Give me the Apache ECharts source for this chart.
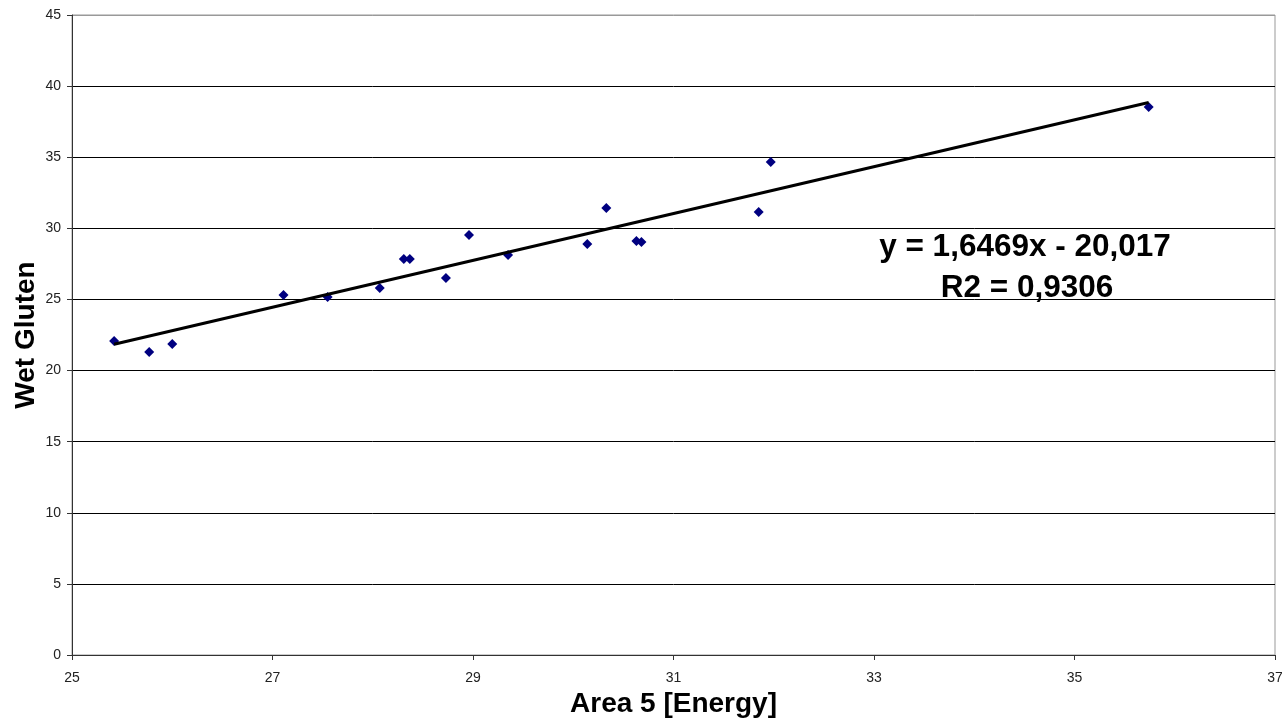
<!DOCTYPE html>
<html>
<head>
<meta charset="utf-8">
<script src="https://cdn.jsdelivr.net/npm/echarts@6/dist/echarts.min.js"></script>
<style>
  html, body { margin: 0; padding: 0; background: #fff; }
  #chart { width: 1282px; height: 720px; }
</style>
</head>
<body>
<div id="chart"></div>
<script>
// measured points: Area 5 [Energy] vs Wet Gluten
var energy = [25.42, 25.77, 26.00, 27.11, 27.55, 28.07, 28.31, 28.37, 28.73, 28.96,
              29.35, 30.14, 30.33, 30.63, 30.68, 31.85, 31.97, 35.74];
var gluten = [22.08, 21.31, 21.87, 25.32, 25.18, 25.81, 27.85, 27.85, 26.51, 29.54,
              28.13, 28.90, 31.43, 29.11, 29.04, 31.15, 34.67, 38.54];

// linear trend as printed on the chart
var trendSlope = 1.6469;
var trendIntercept = -20.017;
var trendLabel = ['y = 1,6469x - 20,017', 'R2 = 0,9306'];

var xMin = 25, xMax = 37, xStep = 2;
var yMin = 0, yMax = 45, yStep = 5;

(function() {
  var font = '"Liberation Sans", Arial, sans-serif';
  var points = energy.map(function(x, i) { return [x, gluten[i]]; });
  var x0 = Math.min.apply(null, energy);
  var x1 = Math.max.apply(null, energy);
  var trend = [[x0, trendSlope * x0 + trendIntercept], [x1, trendSlope * x1 + trendIntercept]];

  var gridColors = [];
  for (var v = yMin; v < yMax; v += yStep) gridColors.push('#000');
  gridColors.push('#999');

  var chart = echarts.init(document.getElementById('chart'), null, { renderer: 'canvas' });
  chart.setOption({
    animation: false,
    backgroundColor: '#fff',
    grid: {
      left: 72, right: 7, top: 15, bottom: 65,
      containLabel: false, outerBoundsMode: 'none',
      show: true, borderColor: '#999', borderWidth: 1
    },
    xAxis: {
      type: 'value',
      min: xMin, max: xMax, interval: xStep,
      name: 'Area 5 [Energy]',
      nameLocation: 'middle',
      nameGap: 35,
      nameMoveOverlap: false,
      nameTextStyle: { fontFamily: font, fontWeight: 'bold', fontSize: 28, color: '#000' },
      axisLine: { show: true, lineStyle: { color: '#333', width: 1 } },
      axisTick: { show: true, length: 5, lineStyle: { color: '#333' } },
      axisLabel: { color: '#222', fontFamily: font, fontSize: 14, margin: 16 },
      splitLine: { show: false }
    },
    yAxis: {
      type: 'value',
      min: yMin, max: yMax, interval: yStep,
      name: 'Wet Gluten',
      nameLocation: 'middle',
      nameGap: 32,
      nameMoveOverlap: false,
      nameTextStyle: { fontFamily: font, fontWeight: 'bold', fontSize: 28, color: '#000' },
      axisLine: { show: true, lineStyle: { color: '#333', width: 1 } },
      axisTick: { show: true, length: 5, lineStyle: { color: '#333' } },
      axisLabel: { color: '#222', fontFamily: font, fontSize: 14, margin: 11 },
      splitLine: { show: true, lineStyle: { color: gridColors, width: 1 } }
    },
    series: [
      {
        type: 'scatter',
        symbol: 'diamond',
        symbolSize: 10,
        itemStyle: { color: '#000080', opacity: 1 },
        data: points,
        z: 3
      },
      {
        type: 'line',
        data: trend,
        symbol: 'none',
        lineStyle: { color: '#000', width: 3 },
        z: 4
      }
    ],
    graphic: [
      {
        type: 'text',
        x: 1025, y: 247,
        style: {
          text: trendLabel[0],
          fontFamily: font, fontWeight: 'bold', fontSize: 31.5,
          fill: '#000', align: 'center', verticalAlign: 'middle'
        },
        z: 10
      },
      {
        type: 'text',
        x: 1027, y: 288,
        style: {
          text: trendLabel[1],
          fontFamily: font, fontWeight: 'bold', fontSize: 31.5,
          fill: '#000', align: 'center', verticalAlign: 'middle'
        },
        z: 10
      }
    ]
  });
  window.addEventListener('resize', function() { chart.resize(); });
})();
</script>
</body>
</html>
